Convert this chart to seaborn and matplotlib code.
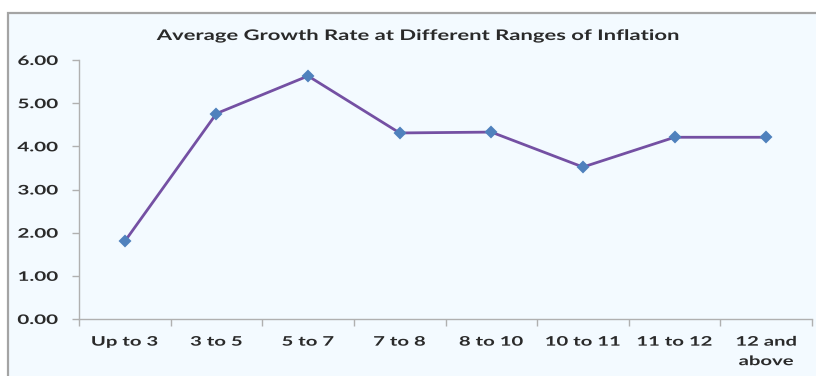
import matplotlib
matplotlib.use("Agg")
import matplotlib.pyplot as plt
from matplotlib.patches import Rectangle
from matplotlib.patheffects import AbstractPathEffect
from matplotlib.transforms import Affine2D
import seaborn as sns
import pandas as pd

# Inflation ranges and the average growth rate observed in each
categories = ["Up to 3", "3 to 5", "5 to 7", "7 to 8", "8 to 10",
              "10 to 11", "11 to 12", "12 and\nabove"]
growth = [1.80, 4.76, 5.63, 4.31, 4.33, 3.52, 4.21, 4.21]
y_ticks = [0, 1, 2, 3, 4, 5, 6]

title = "Average Growth Rate at Different Ranges of Inflation"

bg = "#f3faff"
line_color = "#7450a3"
marker_color = "#4f81bd"
text_color = "#2a2a2a"


class WideText(AbstractPathEffect):
    """Draw glyphs stretched horizontally about a chosen anchor."""

    def __init__(self, sx, anchor="center"):
        super().__init__()
        self.sx = sx
        self.anchor = anchor

    def draw_path(self, renderer, gc, tpath, affine, rgbFace=None):
        ext = tpath.get_extents(affine)
        if self.anchor == "right":
            x0 = ext.x1
        elif self.anchor == "left":
            x0 = ext.x0
        else:
            x0 = 0.5 * (ext.x0 + ext.x1)
        st = affine + Affine2D().translate(-x0, 0).scale(self.sx, 1).translate(x0, 0)
        renderer.draw_path(gc, tpath, st, rgbFace)


sns.set_theme(style="white")
plt.rcParams["font.family"] = ["Lato", "DejaVu Sans"]

df = pd.DataFrame({"range": categories, "growth": growth})

fig = plt.figure(figsize=(8.16, 3.76), dpi=100, facecolor="white")

# chart frame with light fill, running past the right and bottom edges
frame = Rectangle((8 / 816, -0.05), 1.0, 0.05 + (1 - 13 / 376),
                  transform=fig.transFigure, facecolor=bg,
                  edgecolor="#a4a4a4", linewidth=1.6, zorder=-10)
fig.patches.append(frame)

ax = fig.add_axes([79 / 816, 1 - 319 / 376, (812 - 79) / 816, (319 - 60) / 376])
ax.set_zorder(1)
ax.patch.set_alpha(0.0)

sns.pointplot(data=df, x="range", y="growth", order=categories, ax=ax,
              color=line_color, markers="D", markersize=5.5, linewidth=2.0,
              errorbar=None)
for ln in ax.lines:
    ln.set_markerfacecolor(marker_color)
    ln.set_markeredgecolor(marker_color)

ax.set_xlim(-0.5, len(categories) - 0.5)
ax.set_ylim(0, 6)
ax.set_yticks(y_ticks)
ax.set_yticklabels([f"{v:.2f}" for v in y_ticks])
ax.set_xlabel("")
ax.set_ylabel("")

# tick marks sit on the category boundaries, labels at category centres
ax.set_xticks(range(len(categories)))
ax.set_xticklabels(categories, linespacing=1.75)
ax.set_xticks([i - 0.5 for i in range(len(categories) + 1)], minor=True)
ax.tick_params(axis="x", which="major", length=0, pad=12,
               labelsize=9.5, labelcolor=text_color)
ax.tick_params(axis="x", which="minor", length=5, width=1, color="#b0b0b0",
               direction="out", bottom=True)
ax.tick_params(axis="y", which="major", length=5, width=1, color="#b0b0b0",
               direction="out", left=True, pad=10, labelsize=9.5,
               labelcolor=text_color)
for lab in ax.get_xticklabels() + ax.get_yticklabels():
    lab.set_fontweight("bold")

for side in ("top", "right"):
    ax.spines[side].set_visible(False)
for side in ("left", "bottom"):
    ax.spines[side].set_color("#b0b0b0")
    ax.spines[side].set_linewidth(1.0)

title_text = fig.text(418 / 816, 1 - 36 / 376, title, ha="center", va="center",
                      fontsize=10.5, fontweight="bold", color=text_color)

# widen the lettering to the chart's broad label style
fig.canvas.draw()
r = fig.canvas.get_renderer()
sx_title = 523 / title_text.get_window_extent(r).width
sx_x = 68 / ax.get_xticklabels()[0].get_window_extent(r).width
sx_y = 41 / ax.get_yticklabels()[-1].get_window_extent(r).width
title_text.set_path_effects([WideText(sx_title)])
for lab in ax.get_xticklabels():
    lab.set_path_effects([WideText(sx_x)])
for lab in ax.get_yticklabels():
    lab.set_path_effects([WideText(sx_y, anchor="right")])

fig.savefig("out.png", dpi=100, facecolor="white")
